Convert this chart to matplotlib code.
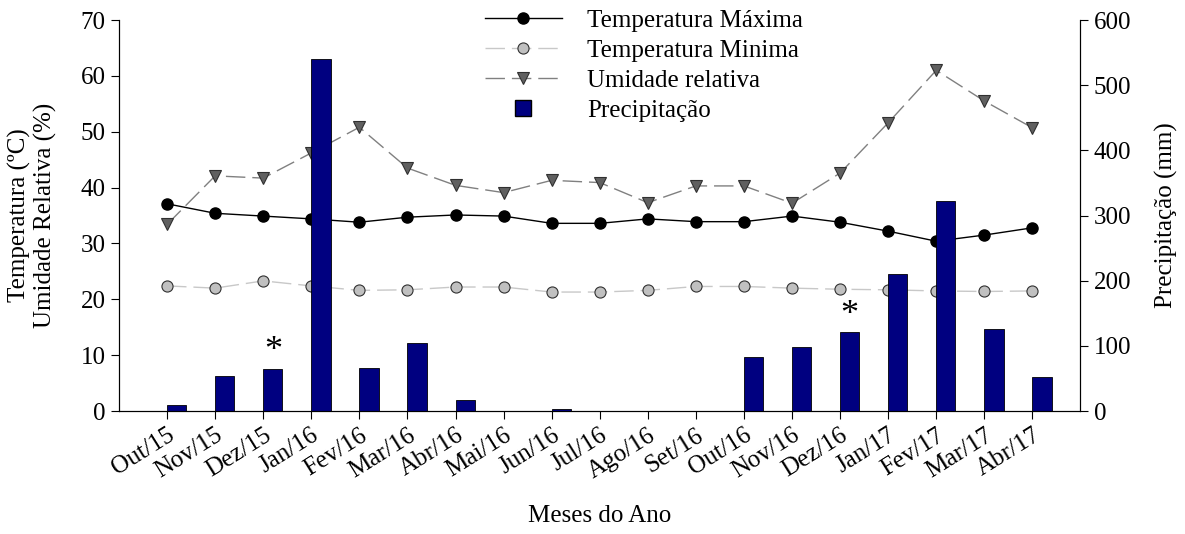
import matplotlib.pyplot as plt
from matplotlib.lines import Line2D
import numpy as np

plt.rcParams['font.family'] = ['Liberation Serif', 'DejaVu Serif']

meses = ['Out/15', 'Nov/15', 'Dez/15', 'Jan/16', 'Fev/16', 'Mar/16', 'Abr/16',
         'Mai/16', 'Jun/16', 'Jul/16', 'Ago/16', 'Set/16', 'Out/16', 'Nov/16',
         'Dez/16', 'Jan/17', 'Fev/17', 'Mar/17', 'Abr/17']
t_max = [37.1, 35.4, 34.9, 34.4, 33.8, 34.7, 35.1, 34.9, 33.6, 33.6, 34.4, 33.9,
         33.9, 34.9, 33.8, 32.2, 30.4, 31.5, 32.8]
t_min = [22.4, 22.0, 23.3, 22.4, 21.6, 21.7, 22.2, 22.2, 21.3, 21.3, 21.6, 22.3,
         22.3, 22.0, 21.8, 21.7, 21.5, 21.4, 21.5]
umidade = [33.4, 42.1, 41.7, 46.2, 50.8, 43.5, 40.4, 39.1, 41.3, 40.9, 37.3, 40.3,
           40.3, 37.2, 42.6, 51.6, 61.0, 55.5, 50.7]
precip = [10, 53, 65, 540, 66, 105, 17, 0, 3, 0, 0, 0, 83, 98, 121, 210, 322, 126, 52]
destaque = ['Dez/15', 'Dez/16']  # meses marcados com *

x = np.arange(len(meses))
fs = 18

fig = plt.figure(figsize=(11.85, 5.34), dpi=100)
ax1 = fig.add_axes([0.1004, 0.2303, 0.8114, 0.7322])
ax2 = ax1.twinx()

l1, = ax1.plot(x, t_max, color='black', lw=1, marker='o', ms=8,
               mfc='black', mec='black', label='Temperatura Máxima')
l2, = ax1.plot(x, t_min, color='#c8c8c8', lw=1, ls=(0, (14, 5)), marker='o', ms=8,
               mfc='#c0c0c0', mec='#303030', mew=0.8, label='Temperatura Minima')
l3, = ax1.plot(x, umidade, color='#808080', lw=1, ls=(0, (14, 5)), marker='v', ms=8,
               mfc='#606060', mec='#303030', mew=0.8, label='Umidade relativa')

ax2.bar(x, precip, width=0.4, align='edge', color='#000080',
        edgecolor='black', linewidth=0.6)
for m in destaque:
    i = meses.index(m)
    ax2.text(x[i] + 0.2, precip[i] + 1, '*', ha='center', va='bottom', fontsize=26)

ax1.set_xlim(-1, 19)
ax1.set_ylim(0, 70)
ax2.set_ylim(0, 600)
ax1.set_yticks(range(0, 71, 10))
ax2.set_yticks(range(0, 601, 100))
ax1.set_xticks(x)
ax1.set_xticklabels(meses, rotation=32, ha='right', rotation_mode='anchor')

for ax in (ax1, ax2):
    ax.spines['top'].set_visible(False)
    ax.tick_params(labelsize=fs, direction='out', length=6)

ax1.set_ylabel('Temperatura (ºC)\nUmidade Relativa (%)', fontsize=fs, labelpad=17)
ax2.set_ylabel('Precipitação (mm)', fontsize=fs, labelpad=17)
ax1.set_xlabel('Meses do Ano', fontsize=fs, labelpad=16)

bar_handle = Line2D([], [], ls='none', marker='s', ms=12, mfc='#000080', mec='black')
ax2.legend([l1, l2, l3, bar_handle],
           ['Temperatura Máxima', 'Temperatura Minima', 'Umidade relativa', 'Precipitação'],
           loc='upper left', bbox_to_anchor=(0.357, 1.085), frameon=False,
           fontsize=fs, handlelength=3.1, labelspacing=0.3, handletextpad=1.0)

fig.savefig('out.png', dpi=100)
